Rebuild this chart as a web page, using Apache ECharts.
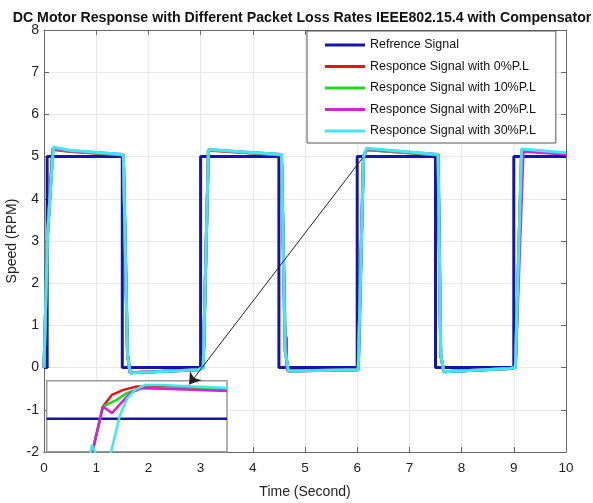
<!DOCTYPE html>
<html><head><meta charset="utf-8">
<script src="https://cdn.jsdelivr.net/npm/echarts@6/dist/echarts.min.js"></script>
<style>html,body{margin:0;padding:0;background:#fff}#c{width:593px;height:503px}</style>
</head><body><div id="c"></div>
<script>
// ---- Data ----
const titleText = 'DC Motor Response with Different Packet Loss Rates IEEE802.15.4 with Compensator';
const seriesNames = ['Refrence Signal','Responce Signal with 0%P.L','Responce Signal with 10%P.L','Responce Signal with 20%P.L','Responce Signal with 30%P.L'];
const xTicks = [0,1,2,3,4,5,6,7,8,9,10];
const yTicks = [-2,-1,0,1,2,3,4,5,6,7,8];

const refSignal = [[0,0],[0.06,0],[0.06,5],[1.5,5],[1.5,0],[3,0],[3,5],[4.5,5],[4.5,0],[6,0],[6,5],[7.5,5],[7.5,0],[9,0],[9,5],[10,5]];
const resp0 = [[0,0],[0.07,3.2],[0.17,5.17],[0.5,5.12],[1.52,5.04],[1.6,0.3],[1.65,-0.12],[2.96,-0.05],[3.05,0],[3.15,5.15],[4.55,5.04],[4.62,0.4],[4.68,-0.08],[6.02,-0.05],[6.12,5.0],[6.18,5.16],[7.55,5.04],[7.6,0.3],[7.66,-0.1],[8.93,-0.02],[9.03,0],[9.15,5.15],[10,5.06]];
const resp10 = [[0,0],[0.07,3.2],[0.17,5.18],[0.5,5.13],[1.52,5.04],[1.6,0.3],[1.65,-0.12],[2.96,-0.05],[3.05,0],[3.15,5.16],[4.55,5.04],[4.62,0.4],[4.68,-0.08],[6.02,-0.05],[6.12,5.0],[6.18,5.17],[7.55,5.04],[7.6,0.3],[7.66,-0.1],[8.93,-0.02],[9.03,0],[9.15,5.16],[10,5.07]];
const resp20 = [[0,0],[0.07,3.2],[0.17,5.19],[0.5,5.14],[1.52,5.05],[1.6,0.3],[1.65,-0.12],[2.96,-0.05],[3.05,0],[3.15,5.16],[4.55,5.05],[4.62,0.75],[4.645,0.7],[4.65,0],[4.68,-0.08],[6.02,-0.05],[6.12,5.0],[6.18,5.18],[7.55,5.05],[7.6,0.3],[7.66,-0.1],[8.93,-0.02],[9.03,0],[9.18,5.12],[10,5.06]];
const resp30 = [[0,0],[0.07,3.2],[0.18,5.22],[0.5,5.15],[1.52,5.05],[1.6,0.3],[1.65,-0.13],[2.96,-0.05],[3.05,0],[3.15,5.17],[4.55,5.05],[4.62,0.4],[4.68,-0.08],[6.02,-0.05],[6.12,5.0],[6.18,5.2],[7.55,5.05],[7.6,0.3],[7.66,-0.1],[8.93,-0.02],[9.03,0],[9.15,5.18],[10,5.09]];

// zoomed inset (rising edge near t = 6 s)
const insetRef = [[6.0,5],[6.6,5]];
const inset0 = [[6.15,4.82],[6.187,5.061],[6.217,5.119],[6.255,5.144],[6.3,5.161],[6.6,5.15]];
const inset10 = [[6.15,4.82],[6.187,5.061],[6.233,5.094],[6.267,5.128],[6.311,5.153],[6.6,5.15]];
const inset20 = [[6.15,4.82],[6.155,4.853],[6.187,5.061],[6.217,5.028],[6.278,5.128],[6.317,5.153],[6.6,5.139]];
const inset30 = [[6.145,4.82],[6.15,4.869],[6.165,4.82],[6.212,4.82],[6.244,5.019],[6.267,5.10],[6.294,5.144],[6.328,5.169],[6.378,5.169],[6.6,5.153]];

const arrowFrom = [6.11, 4.98];
const arrowTo = [2.78, -0.4];

const colors = ['#1414b0','#e3141b','#22d622','#d422d4','#3ee8ee'];
const FONT = 'Liberation Sans, Arial, sans-serif';

const chart = echarts.init(document.getElementById('c'), null, {renderer:'canvas'});
const mainData = [refSignal, resp0, resp10, resp20, resp30];
const insetData = [insetRef, inset0, inset10, inset20, inset30];

const series = [];
mainData.forEach((d,i)=>{
  series.push({name: seriesNames[i], type:'line', data:d, xAxisIndex:0, yAxisIndex:0,
    showSymbol:false, symbol:'none', lineStyle:{color:colors[i], width:3}, itemStyle:{color:colors[i]},
    z: 2, animation:false});
});
series.push({name:'arrow', type:'line', data:[], xAxisIndex:0, yAxisIndex:0, z:4,
  markLine:{silent:true, symbol:['none','arrow'], symbolSize:11, animation:false,
    label:{show:false}, lineStyle:{color:'#222', width:1, type:'solid'},
    data:[[{coord:arrowFrom},{coord:arrowTo}]]}});
insetData.forEach((d,i)=>{
  series.push({name: seriesNames[i], type:'line', data:d, xAxisIndex:2, yAxisIndex:2,
    showSymbol:false, symbol:'none', lineStyle:{color:colors[i], width:2.5}, itemStyle:{color:colors[i]},
    z: 5, clip:true, animation:false});
});

const axLine = {show:true, onZero:false, lineStyle:{color:'#666', width:1}};
chart.setOption({
  animation:false,
  backgroundColor:'#fff',
  title:{text:titleText, left:297, top:6, textAlign:'center',
    textStyle:{fontFamily:FONT, fontSize:14.2, fontWeight:'bold', color:'#111'}},
  legend:{data:seriesNames, orient:'vertical', left:307, top:31, icon:'rect', itemWidth:40, itemHeight:3,
    itemGap:7.5, padding:[7,20,5,18], backgroundColor:'#fff', borderColor:'#555', borderWidth:1,
    textStyle:{fontFamily:FONT, fontSize:12.5, color:'#111', lineHeight:14}, z:6},
  grid:[
    {left:44, right:27, top:30, bottom:51, show:false, containLabel:false, outerBoundsMode:'none'},
    {left:46.7, top:380.7, width:180.3, height:71, show:true, backgroundColor:'#fff', borderColor:'#999', borderWidth:1.5, z:3, containLabel:false, outerBoundsMode:'none'}
  ],
  xAxis:[
    {type:'value', gridIndex:0, min:0, max:10, interval:1, position:'bottom',
     name:'Time (Second)', nameLocation:'middle', nameGap:33, nameMoveOverlap:false,
     nameTextStyle:{fontFamily:FONT, fontSize:14, color:'#222'},
     axisLine:axLine, axisTick:{show:true, inside:true, length:5, lineStyle:{color:'#666'}},
     axisLabel:{fontFamily:FONT, fontSize:13.5, color:'#222', margin:9},
     splitLine:{show:true, lineStyle:{color:'#e8e8e8', width:1}}},
    {type:'value', gridIndex:0, min:0, max:10, interval:1, position:'top',
     axisLine:axLine, axisTick:{show:true, inside:true, length:5, lineStyle:{color:'#666'}},
     axisLabel:{show:false}, splitLine:{show:false}},
    {type:'value', gridIndex:1, min:6.0, max:6.6, show:false}
  ],
  yAxis:[
    {type:'value', gridIndex:0, min:-2, max:8, interval:1, position:'left',
     name:'Speed (RPM)', nameLocation:'middle', nameGap:25, nameMoveOverlap:false,
     nameTextStyle:{fontFamily:FONT, fontSize:14, color:'#222'},
     axisLine:axLine, axisTick:{show:true, inside:true, length:5, lineStyle:{color:'#666'}},
     axisLabel:{fontFamily:FONT, fontSize:14, color:'#222', margin:5},
     splitLine:{show:true, lineStyle:{color:'#e8e8e8', width:1}}},
    {type:'value', gridIndex:0, min:-2, max:8, interval:1, position:'right',
     axisLine:axLine, axisTick:{show:true, inside:true, length:5, lineStyle:{color:'#666'}},
     axisLabel:{show:false}, splitLine:{show:false}},
    {type:'value', gridIndex:1, min:4.835, max:5.19, show:false}
  ],
  series: series
});
</script></body></html>
